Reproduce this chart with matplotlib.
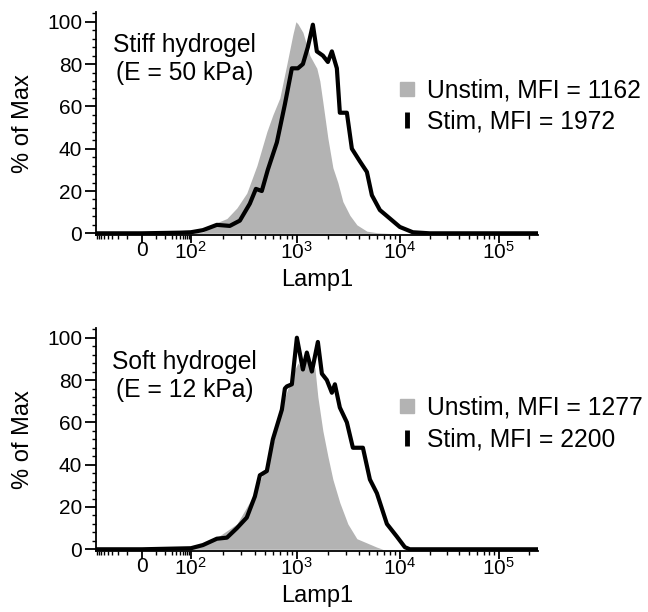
import numpy as np
import matplotlib
matplotlib.use("Agg")
import matplotlib.pyplot as plt
from matplotlib.lines import Line2D
from matplotlib.ticker import FixedLocator, MultipleLocator

plt.rcParams['font.family'] = ['Liberation Sans', 'DejaVu Sans']
plt.rcParams['mathtext.fontset'] = 'custom'
plt.rcParams['mathtext.rm'] = 'Liberation Sans'
plt.rcParams['mathtext.it'] = 'Liberation Sans:italic'

# ---- data (Lamp1 intensity, % of Max) ----
stiff_unstim_x = [-90, 0, 100, 130, 176, 219, 272, 337, 420, 521, 594, 691, 805, 917, 979,
                  1023, 1144, 1337, 1563, 1671, 1788, 2000, 2238, 2500, 2797, 3271, 3826,
                  4786, 5984, 8000, 262144]
stiff_unstim_y = [0, 0, 0.3, 0.5, 5, 7, 12, 19, 32, 48, 56, 64, 80, 94, 100,
                  99, 95, 84, 78, 72, 62, 45, 31, 24, 15, 8.5, 4,
                  1, 0.3, 0, 0]
stiff_stim_x = [-90, 0, 50, 100, 130, 176, 233, 290, 360, 411, 467, 532, 648, 771, 897,
                1023, 1144, 1278, 1430, 1563, 1788, 2000, 2187, 2445, 2614, 3058, 3420,
                4093, 4786, 5350, 6396, 8000, 10000, 13520, 20000, 262144]
stiff_stim_y = [0, 0, 0.3, 0.5, 1.5, 4, 3.5, 6, 14, 21, 20, 30, 43, 61, 78,
                78, 80, 88, 98.6, 86, 84, 81, 86, 78, 57, 57, 40,
                34, 29, 18, 11, 7, 3, 0.5, 0, 0]

soft_unstim_x = [-90, 0, 100, 130, 176, 272, 402, 556, 738, 917, 1023, 1144, 1250, 1398,
                 1495, 1599, 1788, 2000, 2238, 2614, 3126, 3826, 4786, 5984, 6843, 262144]
soft_unstim_y = [0, 0, 0.5, 1.5, 5.5, 12, 26.5, 43.6, 69, 83, 88, 85, 90, 83,
                 86, 72, 56, 44, 33, 22, 12, 5, 3, 1, 0, 0]
soft_stim_x = [-90, 0, 100, 130, 176, 219, 272, 337, 402, 448, 521, 594, 722, 771, 805,
               897, 1000, 1144, 1250, 1398, 1599, 1749, 1954, 2187, 2340, 2614, 3058,
               3499, 4377, 5117, 5984, 7482, 9356, 11232, 12622, 262144]
soft_stim_y = [0, 0, 0.5, 2, 5, 5.5, 10, 15, 25, 35, 37, 52, 66, 76, 77,
               78, 100, 85, 93, 84, 98, 83, 80, 74, 78, 67, 60,
               48, 48, 33, 26.5, 12, 6, 1, 0, 0]

panels = [
    ("Stiff hydrogel\n(E = 50 kPa)", "Unstim, MFI = 1162", "Stim, MFI = 1972",
     stiff_unstim_x, stiff_unstim_y, stiff_stim_x, stiff_stim_y),
    ("Soft hydrogel\n(E = 12 kPa)", "Unstim, MFI = 1277", "Stim, MFI = 2200",
     soft_unstim_x, soft_unstim_y, soft_stim_x, soft_stim_y),
]

major_vals = [0, 1e2, 1e3, 1e4, 1e5]
major_labels = ["0", r"$\mathregular{10^2}$", r"$\mathregular{10^3}$",
                r"$\mathregular{10^4}$", r"$\mathregular{10^5}$"]

# ---- biexponential-like axis transform ----
anchor_vals = np.array([-1e3, -1e2, 0, 1e2, 1e3, 1e4, 1e5, 1e6])
anchor_pos = np.array([-1.55, -0.49, 0, 0.49, 1.55, 2.58, 3.57, 4.56])
anchor_t = np.arcsinh(anchor_vals / 10)


def fwd(x):
    return np.interp(np.arcsinh(np.asarray(x, dtype=float) / 10), anchor_t, anchor_pos)


def inv(p):
    return 10 * np.sinh(np.interp(np.asarray(p, dtype=float), anchor_pos, anchor_t))


minor_vals = [-s * 10 for s in range(1, 10)] + [s * 10 for s in range(1, 10)]
for k in (2, 3, 4):
    minor_vals += [m * 10 ** k for m in range(2, 10)]
minor_vals += [2e5]

gray = '#b3b3b3'
fig = plt.figure(figsize=(6.48, 6.12), dpi=100)
axes_rects = [[0.148, 0.616, 0.682, 0.364], [0.148, 0.0997, 0.682, 0.364]]
legend_tops = [0.872, 0.353]
text_ys = [0.789, 0.785]

for i, (title, lab_u, lab_s, ux, uy, sx, sy) in enumerate(panels):
    ax = fig.add_axes(axes_rects[i])
    ax.set_xscale('function', functions=(fwd, inv))
    ax.fill_between(ux, uy, 0, color=gray, lw=0, zorder=1)
    ax.plot(sx, sy, color='black', lw=3, zorder=2)

    ax.set_xlim(inv(-0.46), inv(3.96))
    ax.set_ylim(-0.8, 104.5)
    ax.xaxis.set_major_locator(FixedLocator(major_vals))
    ax.set_xticklabels(major_labels)
    ax.xaxis.set_minor_locator(FixedLocator(minor_vals))
    ax.yaxis.set_major_locator(FixedLocator([0, 20, 40, 60, 80, 100]))
    ax.yaxis.set_minor_locator(MultipleLocator(4))

    for side in ('top', 'right'):
        ax.spines[side].set_visible(False)
    for side in ('left', 'bottom'):
        ax.spines[side].set_linewidth(1.3)
    ax.tick_params(which='major', direction='out', length=6, width=1.3,
                   labelsize=15)
    ax.tick_params(axis='x', which='major', pad=-1.5)
    ax.tick_params(axis='y', which='major', length=8, pad=2)
    ax.tick_params(which='minor', direction='out', length=3, width=1)

    ax.set_xlabel("Lamp1", fontsize=17, labelpad=4)
    ax.set_ylabel("% of Max", fontsize=17)
    ax.yaxis.set_label_coords(-0.14, 0.5)

    ax.text(0.201, text_ys[i], title, transform=ax.transAxes,
            ha='center', va='center', fontsize=17.7, linespacing=1.2)

    handles = [
        Line2D([], [], marker='s', ls='none', color=gray, markersize=9.5),
        Line2D([], [], marker='|', ls='none', color='black', markersize=12,
               markeredgewidth=3.5),
    ]
    fig.legend(handles, [lab_u, lab_s], loc='upper left',
               bbox_to_anchor=(0.615, legend_tops[i]), frameon=False,
               fontsize=17.7, handlelength=0.7, handletextpad=0.45,
               labelspacing=0.3, borderpad=0, borderaxespad=0)

fig.savefig("out.png", dpi=100)
